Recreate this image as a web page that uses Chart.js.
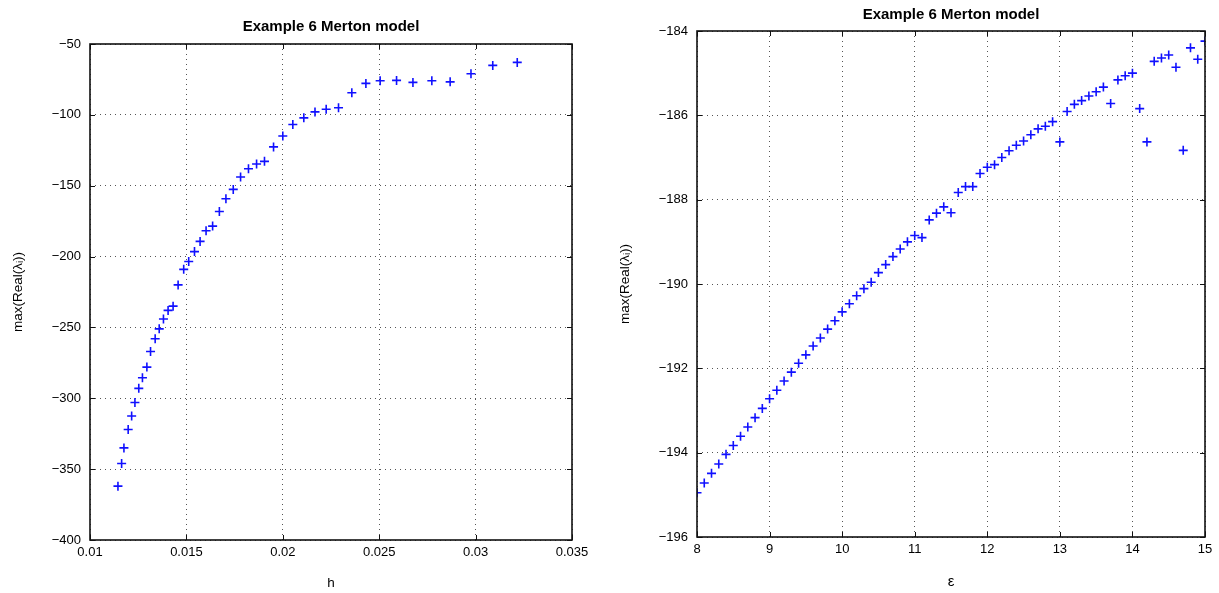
<!DOCTYPE html>
<html><head><meta charset="utf-8">
<script src="https://cdn.jsdelivr.net/npm/chart.js@4"></script>
<style>html,body{margin:0;padding:0;background:#fff;overflow:hidden}
canvas{position:absolute;top:0}
</style></head><body>
<canvas id="c1" width="609" height="593" style="left:0"></canvas>
<canvas id="c2" width="610" height="593" style="left:609px"></canvas>
<script>
const hValues = [0.01145,0.01164,0.01176,0.01198,0.01216,0.01233,0.01253,0.01272,0.01295,0.01314,0.01338,0.01359,0.01381,0.01405,0.01431,0.01457,0.01486,0.01512,0.01542,0.01571,0.01602,0.01636,0.01671,0.01705,0.01743,0.01781,0.01822,0.01864,0.01905,0.01952,0.02,0.02052,0.02109,0.02167,0.02225,0.02289,0.02358,0.02431,0.02505,0.0259,0.02675,0.02773,0.02868,0.02976,0.03089,0.03216];
const hMaxReal = [-362,-346,-335,-322,-312.5,-303,-293,-285.5,-278,-267,-258,-251,-244,-238,-235,-220,-209,-203.5,-196.5,-189.3,-181.8,-178.5,-168.2,-159.2,-152.6,-143.9,-138,-134.7,-132.8,-122.6,-114.9,-106.8,-102.1,-97.9,-96,-95,-84.4,-77.8,-75.9,-75.7,-77.1,-75.9,-76.7,-71,-65.1,-63];
const epsValues = [8.0,8.1,8.2,8.3,8.4,8.5,8.6,8.7,8.8,8.9,9.0,9.1,9.2,9.3,9.4,9.5,9.6,9.7,9.8,9.9,10.0,10.1,10.2,10.3,10.4,10.5,10.6,10.7,10.8,10.9,11.0,11.1,11.2,11.3,11.4,11.5,11.6,11.7,11.8,11.9,12.0,12.1,12.2,12.3,12.4,12.5,12.6,12.7,12.8,12.9,13.0,13.1,13.2,13.3,13.4,13.5,13.6,13.7,13.8,13.9,14.0,14.1,14.2,14.3,14.4,14.5,14.6,14.7,14.8,14.9,15.0];
const epsMaxReal = [-194.95,-194.72,-194.49,-194.27,-194.04,-193.83,-193.61,-193.39,-193.17,-192.95,-192.72,-192.52,-192.30,-192.09,-191.88,-191.68,-191.47,-191.28,-191.07,-190.87,-190.66,-190.47,-190.28,-190.11,-189.96,-189.73,-189.54,-189.35,-189.17,-189.00,-188.85,-188.90,-188.48,-188.32,-188.17,-188.31,-187.83,-187.69,-187.69,-187.38,-187.23,-187.17,-187.00,-186.84,-186.71,-186.61,-186.46,-186.32,-186.26,-186.15,-186.63,-185.91,-185.74,-185.65,-185.54,-185.44,-185.33,-185.72,-185.16,-185.06,-185.00,-185.84,-186.63,-184.72,-184.64,-184.57,-184.86,-186.83,-184.40,-184.67,-184.24];
const leftXTicks = [0.01,0.015,0.02,0.025,0.03,0.035];
const leftYTicks = [-400,-350,-300,-250,-200,-150,-100,-50];
const rightXTicks = [8,9,10,11,12,13,14,15];
const rightYTicks = [-196,-194,-192,-190,-188,-186,-184];
const titleText = 'Example 6 Merton model';
const yLabel = 'max(Real(λᵢ))';

const FONT = "'Liberation Sans', Arial, Helvetica, sans-serif";
const fmt = v => { const s = String(Number(v.toFixed(4))); return s.startsWith('-') ? '\u2212' + s.slice(1) : s; };

const framePlugin = {
  id: 'frame',
  afterDatasetsDraw(chart, args, opts) {
    const {ctx, chartArea: a, scales} = chart;
    ctx.save();
    ctx.strokeStyle = '#111';
    ctx.lineWidth = 1;
    ctx.beginPath();
    scales.x.ticks.forEach(t => {
      const px = Math.round(scales.x.getPixelForValue(t.value)) + 0.5;
      ctx.moveTo(px, a.bottom); ctx.lineTo(px, a.bottom - 5);
      ctx.moveTo(px, a.top); ctx.lineTo(px, a.top + 5);
    });
    scales.y.ticks.forEach(t => {
      const py = Math.round(scales.y.getPixelForValue(t.value)) + 0.5;
      ctx.moveTo(a.left, py); ctx.lineTo(a.left + 5, py);
      ctx.moveTo(a.right, py); ctx.lineTo(a.right - 5, py);
    });
    ctx.stroke();
    ctx.lineWidth = 1.6;
    ctx.strokeRect(a.left, a.top, a.right - a.left, a.bottom - a.top);
    // title centred on the plot area
    ctx.fillStyle = '#000';
    ctx.font = "bold 15px " + FONT;
    ctx.textAlign = 'center';
    ctx.textBaseline = 'middle';
    ctx.fillText(opts.text, (a.left + a.right) / 2, opts.y);
    ctx.restore();
  }
};

function makeChart(id, xs, ys, xTicks, yTicks, xLabel, cfg) {
  const data = xs.map((x, i) => ({x, y: ys[i]}));
  return new Chart(document.getElementById(id), {
    type: 'scatter',
    data: { datasets: [{ data, pointStyle: 'cross', pointRadius: 4.5, pointHoverRadius: 4.5, borderColor: '#1010ff', backgroundColor: '#1010ff', pointBorderWidth: 1.6, showLine: false }] },
    options: {
      responsive: false, animation: false, devicePixelRatio: 1,
      layout: { padding: { left: 0, right: cfg.right, top: cfg.top, bottom: 0 } },
      plugins: {
        legend: { display: false }, tooltip: { enabled: false }, title: { display: false },
        frame: { text: titleText, y: cfg.titleY }
      },
      scales: {
        x: {
          type: 'linear', min: xTicks[0], max: xTicks[xTicks.length - 1],
          afterBuildTicks: s => { s.ticks = xTicks.map(v => ({value: v})); },
          afterFit: s => { s.height = cfg.xHeight; },
          ticks: { callback: v => fmt(v), color: '#000', font: { family: FONT, size: 13 }, padding: 5, maxRotation: 0, autoSkip: false },
          grid: { color: '#555', lineWidth: 1, drawTicks: false },
          border: { display: false, dash: [1, 4] },
          title: { display: true, text: xLabel, color: '#000', font: { family: FONT, size: cfg.xTitleSize }, padding: { top: 0, bottom: 2 } }
        },
        y: {
          type: 'linear', min: yTicks[0], max: yTicks[yTicks.length - 1],
          afterBuildTicks: s => { s.ticks = yTicks.map(v => ({value: v})); },
          afterFit: s => { s.width = cfg.yWidth; },
          ticks: { callback: v => fmt(v), color: '#000', font: { family: FONT, size: 13 }, padding: 9, autoSkip: false },
          grid: { color: '#555', lineWidth: 1, drawTicks: false },
          border: { display: false, dash: [1, 4] },
          title: { display: true, text: yLabel, color: '#000', font: { family: FONT, size: 13.5 }, padding: { top: cfg.yTitlePad, bottom: 0 } }
        }
      }
    },
    plugins: [framePlugin]
  });
}

makeChart('c1', hValues, hMaxReal, leftXTicks, leftYTicks, 'h',
  { right: 37, top: 44, titleY: 27, xHeight: 53, yWidth: 90, yTitlePad: 10, xTitleSize: 13.5 });
makeChart('c2', epsValues, epsMaxReal, rightXTicks, rightYTicks, 'ε',
  { right: 14, top: 31, titleY: 15, xHeight: 56, yWidth: 88, yTitlePad: 8, xTitleSize: 15 });
</script>
</body></html>
